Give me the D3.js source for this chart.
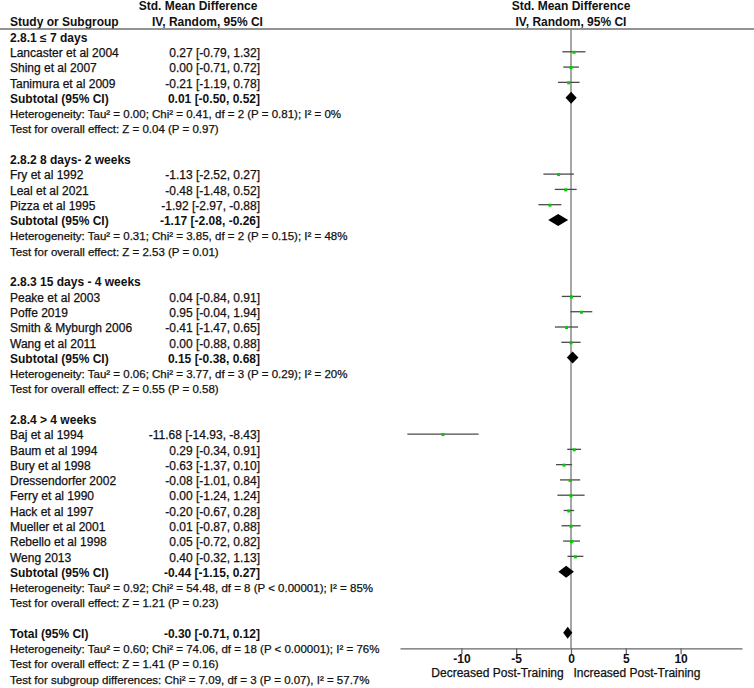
<!DOCTYPE html>
<html>
<head>
<meta charset="utf-8">
<script src="https://cdn.jsdelivr.net/npm/d3@7"></script>
<style>
  html, body { margin: 0; padding: 0; background: #fff; }
  svg text { font-family: "Liberation Sans", Arial, sans-serif; fill: #111; }
  svg text.thick { stroke: #111; stroke-width: 0.25px; }
</style>
</head>
<body>
<div id="chart"></div>
<script>
// Forest plot: std. mean difference, random effects, by training duration subgroup

var groupTitles = ['2.8.1 \u2264 7 days', '2.8.2 8 days- 2 weeks', '2.8.3 15 days - 4 weeks', '2.8.4 > 4 weeks'];

var studyNames = [
  'Lancaster et al 2004', 'Shing et al 2007', 'Tanimura et al 2009',
  'Fry et al 1992', 'Leal et al 2021', 'Pizza et al 1995',
  'Peake et al 2003', 'Poffe 2019', 'Smith & Myburgh 2006', 'Wang et al 2011',
  'Baj et al 1994', 'Baum et al 1994', 'Bury et al 1998', 'Dressendorfer 2002', 'Ferry et al 1990',
  'Hack et al 1997', 'Mueller et al 2001', 'Rebello et al 1998', 'Weng 2013'
];
var studyGroup = [0, 0, 0, 1, 1, 1, 2, 2, 2, 2, 3, 3, 3, 3, 3, 3, 3, 3, 3];
var studySmd = [0.27, 0.00, -0.21, -1.13, -0.48, -1.92, 0.04, 0.95, -0.41, 0.00,
  -11.68, 0.29, -0.63, -0.08, 0.00, -0.20, 0.01, 0.05, 0.40];
var studyLow = [-0.79, -0.71, -1.19, -2.52, -1.48, -2.97, -0.84, -0.04, -1.47, -0.88,
  -14.93, -0.34, -1.37, -1.01, -1.24, -0.67, -0.87, -0.72, -0.32];
var studyHigh = [1.32, 0.72, 0.78, 0.27, 0.52, -0.88, 0.91, 1.94, 0.65, 0.88,
  -8.43, 0.91, 0.10, 0.84, 1.24, 0.28, 0.88, 0.82, 1.13];

var subtotalSmd = [0.01, -1.17, 0.15, -0.44];
var subtotalLow = [-0.50, -2.08, -0.38, -1.15];
var subtotalHigh = [0.52, -0.26, 0.68, 0.27];

var heterogeneity = [
  'Heterogeneity: Tau\u00b2 = 0.00; Chi\u00b2 = 0.41, df = 2 (P = 0.81); I\u00b2 = 0%',
  'Heterogeneity: Tau\u00b2 = 0.31; Chi\u00b2 = 3.85, df = 2 (P = 0.15); I\u00b2 = 48%',
  'Heterogeneity: Tau\u00b2 = 0.06; Chi\u00b2 = 3.77, df = 3 (P = 0.29); I\u00b2 = 20%',
  'Heterogeneity: Tau\u00b2 = 0.92; Chi\u00b2 = 54.48, df = 8 (P < 0.00001); I\u00b2 = 85%'
];
var overallTest = [
  'Test for overall effect: Z = 0.04 (P = 0.97)',
  'Test for overall effect: Z = 2.53 (P = 0.01)',
  'Test for overall effect: Z = 0.55 (P = 0.58)',
  'Test for overall effect: Z = 1.21 (P = 0.23)'
];

var totalSmd = -0.30, totalLow = -0.71, totalHigh = 0.12;
var totalNotes = [
  'Heterogeneity: Tau\u00b2 = 0.60; Chi\u00b2 = 74.06, df = 18 (P < 0.00001); I\u00b2 = 76%',
  'Test for overall effect: Z = 1.41 (P = 0.16)',
  'Test for subgroup differences: Chi\u00b2 = 7.09, df = 3 (P = 0.07), I\u00b2 = 57.7%'
];

var xTicks = [-10, -5, 0, 5, 10];
var xDomain = [-15.6, 15.6];
var favourLeft = 'Decreased Post-Training';
var favourRight = 'Increased Post-Training';

(function () {
  var width = 754, height = 688;
  var fontSize = 12;
  var noteSize = 11.5;

  var locale = d3.formatLocale({ decimal: '.', thousands: ',', grouping: [3], currency: ['', ''], minus: '-' });
  var f2 = locale.format('.2f');
  function ciText(m, lo, hi) { return f2(m) + ' [' + f2(lo) + ', ' + f2(hi) + ']'; }

  // build the row list from the data
  var rows = [];
  var r = 0;
  groupTitles.forEach(function (title, g) {
    rows.push({ r: r++, kind: 'group', label: title });
    studyNames.forEach(function (name, i) {
      if (studyGroup[i] !== g) return;
      rows.push({ r: r++, kind: 'study', label: name, m: studySmd[i], lo: studyLow[i], hi: studyHigh[i] });
    });
    rows.push({ r: r++, kind: 'subtotal', label: 'Subtotal (95% CI)', m: subtotalSmd[g], lo: subtotalLow[g], hi: subtotalHigh[g] });
    rows.push({ r: r++, kind: 'note', label: heterogeneity[g] });
    rows.push({ r: r++, kind: 'note', label: overallTest[g] });
    r++;
  });
  rows.push({ r: r++, kind: 'subtotal', label: 'Total (95% CI)', m: totalSmd, lo: totalLow, hi: totalHigh });
  totalNotes.forEach(function (t) { rows.push({ r: r++, kind: 'note', label: t }); });

  var y = d3.scaleLinear().domain([0, r - 1]).range([36.5, 36.5 + (r - 1) * 15.29]);
  var x = d3.scaleLinear().domain(xDomain).range([400, 742]);

  var headerY = 29;
  var axisY = 648.3;
  var nameX = 10;
  var ciRight = 260;

  function isBold(d) { return d.kind === 'group' || d.kind === 'subtotal'; }

  var svg = d3.select('#chart').append('svg')
    .attr('width', width)
    .attr('height', height)
    .attr('viewBox', [0, 0, width, height]);

  // headers
  var head = svg.append('g').attr('font-size', fontSize).attr('font-weight', 'bold');
  head.append('text').attr('x', 198).attr('y', 6).attr('dy', '0.35em').attr('text-anchor', 'middle').text('Std. Mean Difference');
  head.append('text').attr('x', 207.5).attr('y', 21.5).attr('dy', '0.35em').attr('text-anchor', 'middle').text('IV, Random, 95% CI');
  head.append('text').attr('x', nameX).attr('y', 21.5).attr('dy', '0.35em').text('Study or Subgroup');
  head.append('text').attr('x', x(0)).attr('y', 6).attr('dy', '0.35em').attr('text-anchor', 'middle').text('Std. Mean Difference');
  head.append('text').attr('x', x(0)).attr('y', 21.5).attr('dy', '0.35em').attr('text-anchor', 'middle').text('IV, Random, 95% CI');

  svg.append('line')
    .attr('x1', 0).attr('x2', width)
    .attr('y1', headerY).attr('y2', headerY)
    .attr('stroke', '#6f6f6f').attr('stroke-width', 1.6);

  // zero line
  svg.append('line')
    .attr('x1', x(0)).attr('x2', x(0))
    .attr('y1', headerY).attr('y2', axisY)
    .attr('stroke', '#888').attr('stroke-width', 1.5);

  // text columns
  var txt = svg.append('g').attr('font-size', fontSize);
  txt.selectAll('text.label')
    .data(rows)
    .join('text')
    .attr('class', function (d) { return isBold(d) ? 'label' : 'label thick'; })
    .attr('x', nameX)
    .attr('y', function (d) { return y(d.r) + 1; })
    .attr('dy', '0.35em')
    .attr('font-size', function (d) { return d.kind === 'note' ? noteSize : fontSize; })
    .attr('font-weight', function (d) { return isBold(d) ? 'bold' : 'normal'; })
    .text(function (d) { return d.label; });

  txt.selectAll('text.ci')
    .data(rows.filter(function (d) { return d.kind === 'study' || d.kind === 'subtotal'; }))
    .join('text')
    .attr('class', function (d) { return isBold(d) ? 'ci' : 'ci thick'; })
    .attr('x', ciRight)
    .attr('y', function (d) { return y(d.r) + 1; })
    .attr('dy', '0.35em')
    .attr('text-anchor', 'end')
    .attr('font-weight', function (d) { return isBold(d) ? 'bold' : 'normal'; })
    .text(function (d) { return ciText(d.m, d.lo, d.hi); });

  // study CIs and point estimates
  var studyRows = rows.filter(function (d) { return d.kind === 'study'; });
  var marks = svg.append('g');
  marks.selectAll('line.ci')
    .data(studyRows)
    .join('line')
    .attr('class', 'ci')
    .attr('x1', function (d) { return x(d.lo); })
    .attr('x2', function (d) { return x(d.hi); })
    .attr('y1', function (d) { return y(d.r); })
    .attr('y2', function (d) { return y(d.r); })
    .attr('stroke', '#4a4a4a')
    .attr('stroke-width', 1.3);

  var sq = 3;
  marks.selectAll('rect.pt')
    .data(studyRows)
    .join('rect')
    .attr('class', 'pt')
    .attr('x', function (d) { return x(d.m) - sq / 2; })
    .attr('y', function (d) { return y(d.r) - sq / 2 + 0.5; })
    .attr('width', sq)
    .attr('height', sq)
    .attr('fill', '#00cc00');

  // pooled diamonds
  var dh = 6;
  marks.selectAll('path.diamond')
    .data(rows.filter(function (d) { return d.kind === 'subtotal'; }))
    .join('path')
    .attr('class', 'diamond')
    .attr('d', function (d) {
      var cy = y(d.r);
      return 'M' + x(d.lo) + ',' + cy +
        'L' + x(d.m) + ',' + (cy - dh) +
        'L' + x(d.hi) + ',' + cy +
        'L' + x(d.m) + ',' + (cy + dh) + 'Z';
    })
    .attr('fill', '#000');

  // x axis
  var axis = svg.append('g')
    .attr('transform', 'translate(0,' + axisY + ')')
    .call(d3.axisBottom(x).tickValues(xTicks).tickSize(6).tickSizeOuter(0)
      .tickFormat(locale.format('d')));
  axis.select('.domain').attr('stroke', '#666').attr('stroke-width', 1.3);
  axis.selectAll('.tick line').attr('stroke', '#666').attr('stroke-width', 1.3);
  axis.selectAll('.tick text')
    .attr('font-family', '"Liberation Sans", Arial, sans-serif')
    .attr('font-size', fontSize)
    .attr('font-weight', 'bold')
    .attr('fill', '#111')
    .attr('y', 6)
    .attr('dy', '0.71em');

  svg.append('text').attr('class', 'thick').attr('font-size', fontSize)
    .attr('x', 497.5).attr('y', 672.5).attr('dy', '0.35em').attr('text-anchor', 'middle').text(favourLeft);
  svg.append('text').attr('class', 'thick').attr('font-size', fontSize)
    .attr('x', 637).attr('y', 672.5).attr('dy', '0.35em').attr('text-anchor', 'middle').text(favourRight);
})();
</script>
</body>
</html>
